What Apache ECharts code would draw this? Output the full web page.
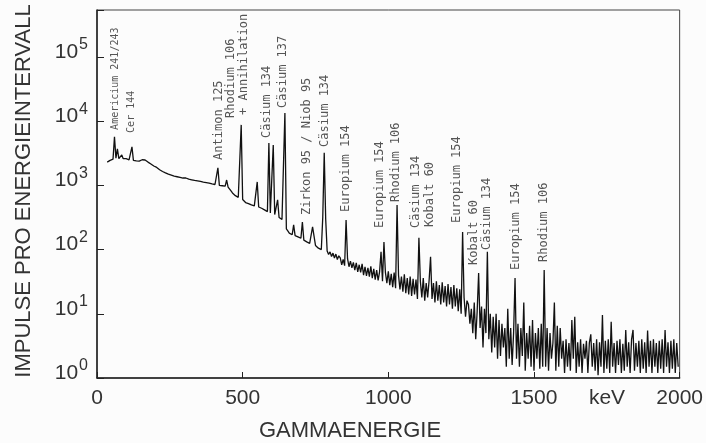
<!DOCTYPE html>
<html>
<head>
<meta charset="utf-8">
<title>Gammaspektrum</title>
<script src="https://cdn.jsdelivr.net/npm/echarts@6/dist/echarts.min.js"></script>
<style>
html, body { margin: 0; padding: 0; background: #fcfcfc; }
#spektrum { width: 706px; height: 443px; }
</style>
</head>
<body>
<div id="spektrum"></div>
<script>
// Spektrum: Impulse je 5-keV-Intervall, ab 35 keV
var spectrumStart = 35;
var spectrumStep = 5;
var counts = [
	2300, 2400, 2450, 2500, 2550, 5680, 2650, 3690, 2600, 2550,   // 35
	2970, 2600, 2550, 2600, 2550, 2500, 2500, 3960, 2450, 2400,   // 85
	2400, 2400, 2380, 2420, 2500, 2570, 2480, 2350, 2300, 2250,   // 135
	2150, 2100, 2000, 1950, 1900, 1820, 1750, 1700, 1640, 1600,   // 185
	1560, 1520, 1490, 1470, 1440, 1410, 1390, 1370, 1360, 1340,   // 235
	1330, 1320, 1300, 1290, 1300, 1270, 1250, 1240, 1220, 1200,   // 285
	1190, 1180, 1170, 1160, 1150, 1130, 1120, 1110, 1100, 1090,   // 335
	1080, 1060, 1050, 1040, 1030, 1020, 1870, 1000, 990, 985,     // 385
	980, 970, 1210, 940, 880, 820, 760, 720, 690, 670,            // 435
	650, 640, 8730, 600, 560, 540, 535, 520, 505, 495,            // 485
	490, 480, 475, 1130, 460, 450, 440, 425, 415, 400,            // 535
	390, 4570, 370, 360, 4250, 350, 340, 593, 315, 305,           // 585
	295, 290, 13400, 210, 195, 180, 175, 170, 242, 165,           // 635
	162, 158, 155, 150, 269, 140, 135, 132, 130, 125,             // 685
	122, 225, 210, 116, 112, 105, 102, 100, 320, 3200,            // 735
	300, 95, 84, 92, 78, 88, 74, 85, 70, 80,                      // 785
	74, 58, 70, 56, 289, 72, 54, 66, 52, 63,                      // 835
	48, 62, 45, 58, 44, 60, 40, 54, 39, 52,                       // 885
	38, 55, 36, 50, 34, 48, 33, 45, 92, 32,                       // 935
	131, 44, 30, 46, 28, 42, 26, 44, 25, 495,                     // 985
	40, 24, 38, 22, 41, 21, 36, 20, 38, 19,                       // 1035
	35, 20, 34, 17, 152, 32, 18, 36, 16, 30,                      // 1085
	18, 33, 77, 17, 30, 15, 32, 16, 28, 14,                       // 1135
	31, 15, 27, 13, 29, 14, 26, 12, 28, 13,                       // 1185
	25, 11, 24, 10, 188, 18, 9, 16, 14, 7,                        // 1235
	12, 5, 15, 4, 11, 43, 6, 13, 3, 12,                           // 1285
	5, 92, 4, 10, 2.5, 9, 3, 10, 2, 8,                            // 1335
	2.2, 7, 3, 6, 1.5, 12, 2, 6, 1.6, 5,                          // 1385
	36, 2, 7, 1.5, 6, 2.2, 15, 1.3, 5, 2,                         // 1435
	6.5, 1.5, 8, 1.3, 5, 2, 6, 1.4, 7, 1.5,                       // 1485
	48, 1.5, 6, 1.3, 5, 2, 3.5, 15, 1.3, 6.5,                     // 1535
	1.5, 6, 2, 3.8, 1.2, 4, 1.5, 3.5, 1.3, 8,                     // 1585
	2, 9, 1.2, 3.6, 1.5, 4, 1.2, 3.4, 2, 3.8,                     // 1635
	1.2, 3.5, 4.8, 1.5, 3.5, 1.3, 4, 1.1, 3.6, 1.5,               // 1685
	9.6, 1.2, 3.8, 1.4, 4, 1.2, 7.5, 1.5, 3.5, 1.2,               // 1735
	3.8, 1.6, 4, 1.2, 3.4, 1.3, 5.6, 1.5, 3.6, 1.2,               // 1785
	4, 5.6, 1.3, 3.5, 1.5, 3.8, 1.2, 4, 1.4, 3.6,                 // 1835
	1.2, 5.5, 1.5, 3.8, 1.2, 4, 1.5, 3.5, 1.2, 3.8,               // 1885
	1.4, 4, 1.2, 5.6, 1.5, 3.6, 1.2, 3.8, 1.4, 4,                 // 1935
	1.2, 3.5, 1.5                                                 // 1985
];

// Beschriftung der Linien (Fuss der Schrift in keV / Impulsen)
var labelNames = [
	'Americium 241/243', 'Cer 144', 'Antimon 125', 'Rhodium 106', '+ Annihilation',
	'Cäsium 134', 'Cäsium 137', 'Zirkon 95 / Niob 95', 'Cäsium 134', 'Europium 154',
	'Europium 154', 'Rhodium 106', 'Cäsium 134', 'Kobalt 60', 'Europium 154',
	'Kobalt 60', 'Cäsium 134', 'Europium 154', 'Rhodium 106'
];
var labelEnergy = [64, 118, 420, 460, 504, 582, 639, 719, 783, 854, 971, 1025, 1096, 1143, 1237, 1294, 1338, 1439, 1533];
var labelCounts = [7300, 6550, 2490, 11200, 12500, 5470, 16000, 346, 3960, 385, 217, 551, 217, 225, 260, 57.5, 98.6, 48, 64];

var xTicks = [0, 500, 1000, 1500, 2000];

var fontName = '"Liberation Sans", Arial, sans-serif';
var monoName = '"DejaVu Sans Mono", monospace';
var ink = '#222';

function drawSpektrum() {
	var chart = echarts.init(document.getElementById('spektrum'));

	var lineData = counts.map(function(c, i) {
		return [spectrumStart + i * spectrumStep, c];
	});
	// die beiden ersten Beschriftungen sind kleiner gesetzt
	var labelData = labelEnergy.map(function(e, i) {
		var item = { value: [e, labelCounts[i]], name: labelNames[i] };
		if (i < 2) item.label = { fontSize: 10 };
		return item;
	});

	var option = {
		backgroundColor: '#fcfcfc',
		animation: false,
		grid: {
			left: 97, right: 14, top: 10, bottom: 65,
			show: true, borderColor: '#444', borderWidth: 1
		},
		xAxis: {
			type: 'value',
			min: xTicks[0],
			max: xTicks[xTicks.length - 1],
			interval: 500,
			axisLine: { lineStyle: { color: ink, width: 1.5 } },
			axisTick: { inside: true, length: 6, lineStyle: { color: ink } },
			axisLabel: {
				margin: 10, fontSize: 21, fontFamily: fontName, color: '#333',
				formatter: function(v) { return String(v); }
			},
			splitLine: { show: false }
		},
		yAxis: {
			type: 'log',
			logBase: 10,
			min: 1,
			max: 537000,
			axisLine: { show: true, lineStyle: { color: ink, width: 1.5 } },
			axisTick: { inside: true, length: 7, lineStyle: { color: ink } },
			splitLine: { show: false },
			axisLabel: {
				margin: 9,
				color: '#333',
				formatter: function(v) {
					var e = Math.log10(v);
					if (Math.abs(e - Math.round(e)) > 0.01) return '';
					return '{b|10}{e|' + Math.round(e) + '}';
				},
				rich: {
					b: { fontSize: 21, fontFamily: fontName, color: '#333', padding: [0, 0, 10, 0] },
					e: { fontSize: 16, fontFamily: fontName, color: '#333', padding: [0, 0, 24, 1] }
				}
			}
		},
		graphic: [
			{
				type: 'text', x: 24, y: 191, rotation: Math.PI / 2,
				style: { text: 'IMPULSE PRO ENERGIEINTERVALL', font: '22px ' + fontName, fill: '#333',
					textAlign: 'center', textVerticalAlign: 'middle' }
			},
			{
				type: 'text', x: 350, y: 431,
				style: { text: 'GAMMAENERGIE', font: '22px ' + fontName, fill: '#333',
					textAlign: 'center', textVerticalAlign: 'middle' }
			},
			{
				type: 'text', x: 607, y: 398,
				style: { text: 'keV', font: '21px ' + fontName, fill: '#333',
					textAlign: 'center', textVerticalAlign: 'middle' }
			}
		],
		series: [
			{
				name: 'Spektrum',
				type: 'line',
				data: lineData,
				showSymbol: false,
				lineStyle: { color: '#111', width: 1.3 },
				silent: true
			},
			{
				name: 'Nuklide',
				type: 'scatter',
				data: labelData,
				symbolSize: 0,
				silent: true,
				label: {
					show: true,
					position: 'top',
					distance: 0,
					rotate: 90,
					align: 'left',
					verticalAlign: 'middle',
					fontSize: 12,
					fontFamily: monoName,
					color: '#2a2a2a',
					formatter: '{b}'
				}
			}
		]
	};
	chart.setOption(option);
}

drawSpektrum();
</script>
</body>
</html>
